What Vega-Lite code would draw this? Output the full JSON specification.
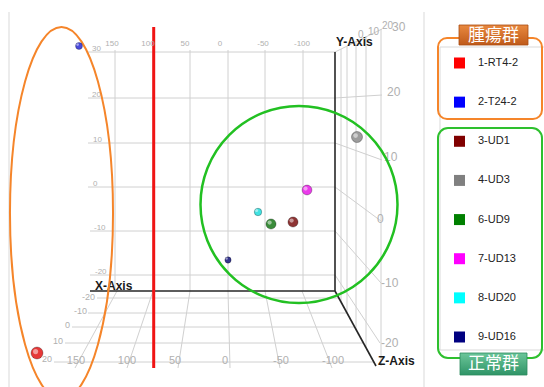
{
  "$schema": "https://vega.github.io/schema/vega-lite/v6.json",
  "width": 544,
  "height": 387,
  "autosize": {"type": "none"},
  "padding": 0,
  "background": "white",
  "config": {"view": {"stroke": null}},
  "datasets": {
    "pts": [
      {"sample": "1-RT4-2", "x": 37, "y": 353, "z": 20},
      {"sample": "2-T24-2", "x": 79, "y": 46, "z": -15},
      {"sample": "3-UD1", "x": 293, "y": 222, "z": 5},
      {"sample": "4-UD3", "x": 357, "y": 137, "z": 12},
      {"sample": "6-UD9", "x": 271, "y": 224, "z": 5},
      {"sample": "7-UD13", "x": 307, "y": 190, "z": 3},
      {"sample": "8-UD20", "x": 258, "y": 212, "z": -12},
      {"sample": "9-UD16", "x": 228, "y": 260, "z": -18}
    ],
    "seg": [
      {"kind": "frame", "x": 9, "y": 12, "x2": 9, "y2": 387},
      {"kind": "frame", "x": 424, "y": 12, "x2": 424, "y2": 387},
      {"kind": "frame", "x": 440, "y": 47, "x2": 440, "y2": 350},
      {"kind": "frame", "x": 440, "y": 47, "x2": 544, "y2": 47},
      {"kind": "frame", "x": 440, "y": 350, "x2": 544, "y2": 350},
      {"kind": "grid", "x": 115, "y": 50, "x2": 115, "y2": 291},
      {"kind": "grid", "x": 153, "y": 50, "x2": 153, "y2": 291},
      {"kind": "grid", "x": 190, "y": 50, "x2": 190, "y2": 291},
      {"kind": "grid", "x": 228, "y": 50, "x2": 228, "y2": 291},
      {"kind": "grid", "x": 265, "y": 50, "x2": 265, "y2": 291},
      {"kind": "grid", "x": 303, "y": 50, "x2": 303, "y2": 291},
      {"kind": "grid", "x": 88, "y": 52, "x2": 335, "y2": 52},
      {"kind": "grid", "x": 88, "y": 98, "x2": 335, "y2": 98},
      {"kind": "grid", "x": 88, "y": 143, "x2": 335, "y2": 143},
      {"kind": "grid", "x": 88, "y": 187, "x2": 335, "y2": 187},
      {"kind": "grid", "x": 90, "y": 231, "x2": 335, "y2": 231},
      {"kind": "grid", "x": 90, "y": 275, "x2": 335, "y2": 275},
      {"kind": "grid", "x": 117, "y": 291, "x2": 75, "y2": 368},
      {"kind": "grid", "x": 153, "y": 291, "x2": 127, "y2": 368},
      {"kind": "grid", "x": 190, "y": 291, "x2": 178, "y2": 368},
      {"kind": "grid", "x": 228, "y": 291, "x2": 230, "y2": 368},
      {"kind": "grid", "x": 265, "y": 291, "x2": 280, "y2": 368},
      {"kind": "grid", "x": 302, "y": 291, "x2": 332, "y2": 368},
      {"kind": "grid", "x": 97, "y": 298, "x2": 339, "y2": 298},
      {"kind": "grid", "x": 88, "y": 313, "x2": 347, "y2": 313},
      {"kind": "grid", "x": 72, "y": 327, "x2": 355, "y2": 327},
      {"kind": "grid", "x": 65, "y": 343, "x2": 363, "y2": 343},
      {"kind": "grid", "x": 54, "y": 362, "x2": 374, "y2": 362},
      {"kind": "grid", "x": 341, "y": 49, "x2": 341, "y2": 302},
      {"kind": "grid", "x": 347, "y": 46, "x2": 347, "y2": 313},
      {"kind": "grid", "x": 356, "y": 41, "x2": 356, "y2": 329},
      {"kind": "grid", "x": 366, "y": 36, "x2": 366, "y2": 348},
      {"kind": "grid", "x": 381, "y": 29, "x2": 381, "y2": 366},
      {"kind": "grid", "x": 335, "y": 52, "x2": 382, "y2": 29},
      {"kind": "grid", "x": 335, "y": 98, "x2": 382, "y2": 95},
      {"kind": "grid", "x": 335, "y": 143, "x2": 382, "y2": 160},
      {"kind": "grid", "x": 335, "y": 187, "x2": 381, "y2": 221},
      {"kind": "grid", "x": 335, "y": 231, "x2": 381, "y2": 283},
      {"kind": "grid", "x": 335, "y": 275, "x2": 380, "y2": 343},
      {"kind": "axis", "x": 335, "y": 52, "x2": 335, "y2": 291},
      {"kind": "axis", "x": 90, "y": 291, "x2": 335, "y2": 291},
      {"kind": "axis", "x": 335, "y": 291, "x2": 376, "y2": 366},
      {"kind": "red", "x": 153.7, "y": 27, "x2": 153.7, "y2": 368}
    ],
    "lbl": [
      {"kind": "bx", "x": 112, "y": 44, "t": "150"},
      {"kind": "bx", "x": 148, "y": 44, "t": "100"},
      {"kind": "bx", "x": 185, "y": 44, "t": "50"},
      {"kind": "bx", "x": 220, "y": 44, "t": "0"},
      {"kind": "bx", "x": 263, "y": 44, "t": "-50"},
      {"kind": "bx", "x": 302, "y": 44, "t": "-100"},
      {"kind": "by", "x": 92, "y": 49, "t": "30"},
      {"kind": "by", "x": 92, "y": 95, "t": "20"},
      {"kind": "by", "x": 93, "y": 140, "t": "10"},
      {"kind": "by", "x": 93, "y": 184, "t": "0"},
      {"kind": "by", "x": 94, "y": 228, "t": "-10"},
      {"kind": "by", "x": 95, "y": 272, "t": "-20"},
      {"kind": "fz", "x": 95, "y": 297, "t": "-20"},
      {"kind": "fz", "x": 87, "y": 311, "t": "-10"},
      {"kind": "fz", "x": 70, "y": 325, "t": "0"},
      {"kind": "fz", "x": 63, "y": 341, "t": "10"},
      {"kind": "fz", "x": 52, "y": 359, "t": "20"},
      {"kind": "fx", "x": 76, "y": 361, "t": "150"},
      {"kind": "fx", "x": 127, "y": 361, "t": "100"},
      {"kind": "fx", "x": 175, "y": 361, "t": "50"},
      {"kind": "fx", "x": 225, "y": 361, "t": "0"},
      {"kind": "fx", "x": 281, "y": 361, "t": "-50"},
      {"kind": "fx", "x": 333, "y": 361, "t": "-100"},
      {"kind": "ry", "x": 392, "y": 27, "t": "30"},
      {"kind": "ry", "x": 387, "y": 92, "t": "20"},
      {"kind": "ry", "x": 384, "y": 157, "t": "10"},
      {"kind": "ry", "x": 377, "y": 219, "t": "0"},
      {"kind": "ry", "x": 381, "y": 283, "t": "-10"},
      {"kind": "ry", "x": 381, "y": 343, "t": "-20"},
      {"kind": "tz", "x": 358, "y": 35, "t": "0"},
      {"kind": "tz", "x": 368, "y": 32, "t": "10"},
      {"kind": "tz", "x": 382, "y": 26, "t": "20"},
      {"kind": "title", "x": 336, "y": 42, "t": "Y-Axis"},
      {"kind": "title", "x": 95, "y": 286, "t": "X-Axis"},
      {"kind": "title", "x": 378, "y": 361, "t": "Z-Axis"},
      {"kind": "hdr", "x": 493.5, "y": 35.5, "t": "腫瘍群"},
      {"kind": "hdr", "x": 493.5, "y": 364, "t": "正常群"}
    ],
    "box": [
      {"kind": "obox", "x": 438, "y": 38, "x2": 542, "y2": 119},
      {"kind": "gbox", "x": 438, "y": 128, "x2": 542, "y2": 358},
      {"kind": "olab", "x": 459, "y": 25, "x2": 528, "y2": 45},
      {"kind": "glab", "x": 460, "y": 353, "x2": 527, "y2": 375}
    ],
    "groups": [
      {"group": "tumor", "x": 61.5, "y": 213},
      {"group": "normal", "x": 299, "y": 204.5}
    ]
  },
  "layer": [
    {
      "resolve": {"scale": {"size": "independent"}},
      "layer": [
        {
          "data": {"name": "seg"},
          "transform": [{"filter": "datum.kind === 'frame'"}],
          "mark": {"type": "rule", "color": "#d9d9d9", "strokeWidth": 1},
          "encoding": {
            "x": {"field": "x", "type": "quantitative", "scale": {"domain": [0, 544], "nice": false, "zero": false}, "axis": null},
            "y": {"field": "y", "type": "quantitative", "scale": {"domain": [0, 387], "nice": false, "zero": false, "reverse": true}, "axis": null},
            "x2": {"field": "x2"},
            "y2": {"field": "y2"}
          }
        },
        {
          "data": {"name": "seg"},
          "transform": [{"filter": "datum.kind === 'grid'"}],
          "mark": {"type": "rule", "color": "#d0d0d0", "strokeWidth": 1},
          "encoding": {
            "x": {"field": "x", "type": "quantitative"},
            "y": {"field": "y", "type": "quantitative"},
            "x2": {"field": "x2"},
            "y2": {"field": "y2"}
          }
        },
        {
          "data": {"name": "seg"},
          "transform": [{"filter": "datum.kind === 'axis'"}],
          "mark": {"type": "rule", "color": "#262626", "strokeWidth": 1.6},
          "encoding": {
            "x": {"field": "x", "type": "quantitative"},
            "y": {"field": "y", "type": "quantitative"},
            "x2": {"field": "x2"},
            "y2": {"field": "y2"}
          }
        },
        {
          "data": {"name": "seg"},
          "transform": [{"filter": "datum.kind === 'red'"}],
          "mark": {"type": "rule", "color": "#f01414", "strokeWidth": 3},
          "encoding": {
            "x": {"field": "x", "type": "quantitative"},
            "y": {"field": "y", "type": "quantitative"},
            "x2": {"field": "x2"},
            "y2": {"field": "y2"}
          }
        },
        {
          "data": {"name": "lbl"},
          "transform": [{"filter": "datum.kind === 'bx'"}],
          "mark": {"type": "text", "align": "center", "baseline": "middle", "font": "Liberation Sans", "fontSize": 8, "color": "#b0b0b0"},
          "encoding": {
            "x": {"field": "x", "type": "quantitative"},
            "y": {"field": "y", "type": "quantitative"},
            "text": {"field": "t"}
          }
        },
        {
          "data": {"name": "lbl"},
          "transform": [{"filter": "datum.kind === 'by'"}],
          "mark": {"type": "text", "align": "left", "baseline": "middle", "font": "Liberation Sans", "fontSize": 8, "color": "#b0b0b0"},
          "encoding": {
            "x": {"field": "x", "type": "quantitative"},
            "y": {"field": "y", "type": "quantitative"},
            "text": {"field": "t"}
          }
        },
        {
          "data": {"name": "lbl"},
          "transform": [{"filter": "datum.kind === 'fz'"}],
          "mark": {"type": "text", "align": "right", "baseline": "middle", "font": "Liberation Sans", "fontSize": 9, "color": "#b0b0b0"},
          "encoding": {
            "x": {"field": "x", "type": "quantitative"},
            "y": {"field": "y", "type": "quantitative"},
            "text": {"field": "t"}
          }
        },
        {
          "data": {"name": "lbl"},
          "transform": [{"filter": "datum.kind === 'fx'"}],
          "mark": {"type": "text", "align": "center", "baseline": "middle", "font": "Liberation Sans", "fontSize": 11, "color": "#b0b0b0"},
          "encoding": {
            "x": {"field": "x", "type": "quantitative"},
            "y": {"field": "y", "type": "quantitative"},
            "text": {"field": "t"}
          }
        },
        {
          "data": {"name": "lbl"},
          "transform": [{"filter": "datum.kind === 'ry'"}],
          "mark": {"type": "text", "align": "left", "baseline": "middle", "font": "Liberation Sans", "fontSize": 12, "color": "#b0b0b0"},
          "encoding": {
            "x": {"field": "x", "type": "quantitative"},
            "y": {"field": "y", "type": "quantitative"},
            "text": {"field": "t"}
          }
        },
        {
          "data": {"name": "lbl"},
          "transform": [{"filter": "datum.kind === 'tz'"}],
          "mark": {"type": "text", "align": "left", "baseline": "middle", "font": "Liberation Sans", "fontSize": 10, "color": "#b0b0b0"},
          "encoding": {
            "x": {"field": "x", "type": "quantitative"},
            "y": {"field": "y", "type": "quantitative"},
            "text": {"field": "t"}
          }
        },
        {
          "data": {"name": "lbl"},
          "transform": [{"filter": "datum.kind === 'title'"}],
          "mark": {"type": "text", "align": "left", "baseline": "middle", "font": "Liberation Sans", "fontSize": 12, "fontWeight": "bold", "color": "#1a1a1a"},
          "encoding": {
            "x": {"field": "x", "type": "quantitative"},
            "y": {"field": "y", "type": "quantitative"},
            "text": {"field": "t"}
          }
        },
        {
          "data": {"name": "box"},
          "transform": [{"filter": "datum.kind === 'obox'"}],
          "mark": {"type": "rect", "fill": "transparent", "stroke": "#f5852a", "strokeWidth": 2, "cornerRadius": 9},
          "encoding": {
            "x": {"field": "x", "type": "quantitative"},
            "y": {"field": "y", "type": "quantitative"},
            "x2": {"field": "x2"},
            "y2": {"field": "y2"}
          }
        },
        {
          "data": {"name": "box"},
          "transform": [{"filter": "datum.kind === 'gbox'"}],
          "mark": {"type": "rect", "fill": "transparent", "stroke": "#2ec02e", "strokeWidth": 2, "cornerRadius": 10},
          "encoding": {
            "x": {"field": "x", "type": "quantitative"},
            "y": {"field": "y", "type": "quantitative"},
            "x2": {"field": "x2"},
            "y2": {"field": "y2"}
          }
        },
        {
          "data": {"name": "box"},
          "transform": [{"filter": "datum.kind === 'olab'"}],
          "mark": {"type": "rect", "stroke": "#a84c12", "strokeWidth": 0.8, "fill": {"gradient": "linear", "x1": 0, "y1": 0, "x2": 0, "y2": 1, "stops": [{"offset": 0, "color": "#e9893f"}, {"offset": 1, "color": "#bf5a1a"}]}},
          "encoding": {
            "x": {"field": "x", "type": "quantitative"},
            "y": {"field": "y", "type": "quantitative"},
            "x2": {"field": "x2"},
            "y2": {"field": "y2"}
          }
        },
        {
          "data": {"name": "box"},
          "transform": [{"filter": "datum.kind === 'glab'"}],
          "mark": {"type": "rect", "stroke": "#2b8a5e", "strokeWidth": 0.8, "fill": {"gradient": "linear", "x1": 0, "y1": 0, "x2": 0, "y2": 1, "stops": [{"offset": 0, "color": "#6cc69a"}, {"offset": 1, "color": "#2f9467"}]}},
          "encoding": {
            "x": {"field": "x", "type": "quantitative"},
            "y": {"field": "y", "type": "quantitative"},
            "x2": {"field": "x2"},
            "y2": {"field": "y2"}
          }
        },
        {
          "data": {"name": "lbl"},
          "transform": [{"filter": "datum.kind === 'hdr'"}],
          "mark": {"type": "text", "align": "center", "baseline": "middle", "font": "Noto Sans CJK JP", "fontSize": 17, "color": "#ffffff"},
          "encoding": {
            "x": {"field": "x", "type": "quantitative"},
            "y": {"field": "y", "type": "quantitative"},
            "text": {"field": "t"}
          }
        },
        {
          "data": {"name": "groups"},
          "transform": [{"filter": "datum.group === 'tumor'"}],
          "mark": {"type": "point", "filled": false, "clip": true, "opacity": 1, "shape": "M-0.277,0A0.277,1,0,1,0,0.277,0A0.277,1,0,1,0,-0.277,0Z", "size": 138384, "stroke": "#f5852a", "strokeWidth": 2},
          "encoding": {
            "x": {"field": "x", "type": "quantitative"},
            "y": {"field": "y", "type": "quantitative"}
          }
        },
        {
          "data": {"name": "groups"},
          "transform": [{"filter": "datum.group === 'normal'"}],
          "mark": {"type": "point", "filled": false, "opacity": 1, "shape": "circle", "size": 38809, "stroke": "#22c022", "strokeWidth": 2.5},
          "encoding": {
            "x": {"field": "x", "type": "quantitative"},
            "y": {"field": "y", "type": "quantitative"}
          }
        },
        {
          "data": {"name": "pts"},
          "mark": {"type": "point", "filled": true, "shape": "circle", "opacity": 1, "stroke": "#000000", "strokeOpacity": 0.35, "strokeWidth": 0.8},
          "encoding": {
            "x": {"field": "x", "type": "quantitative"},
            "y": {"field": "y", "type": "quantitative"},
            "fill": {
              "field": "sample", "type": "nominal", "legend": null,
              "scale": {
                "domain": ["1-RT4-2", "2-T24-2", "3-UD1", "4-UD3", "6-UD9", "7-UD13", "8-UD20", "9-UD16"],
                "range": ["#e63838", "#4a4adc", "#8e3434", "#9c9c9c", "#3a8c3a", "#ea3aea", "#40e2e2", "#34348e"]
              }
            },
            "size": {"field": "z", "type": "quantitative", "legend": null, "scale": {"domain": [-20, 20], "range": [34, 144]}}
          }
        },
        {
          "data": {"name": "pts"},
          "mark": {"type": "point", "filled": true, "shape": "circle", "opacity": 0.5, "color": "#ffffff", "xOffset": -1.4, "yOffset": -1.4},
          "encoding": {
            "x": {"field": "x", "type": "quantitative"},
            "y": {"field": "y", "type": "quantitative"},
            "size": {"field": "z", "type": "quantitative", "legend": null, "scale": {"domain": [-20, 20], "range": [5, 26]}}
          }
        }
      ]
    },
    {
      "data": {"name": "pts"},
      "layer": [
        {
          "mark": {"type": "point", "shape": "square", "filled": true, "opacity": 1, "size": 121},
          "encoding": {
            "x": {"datum": 459.5, "type": "quantitative", "scale": {"domain": [0, 544], "nice": false, "zero": false}, "axis": null},
            "y": {"field": "sample", "type": "nominal", "axis": null, "scale": {"type": "point", "domain": ["1-RT4-2", "2-T24-2", "3-UD1", "4-UD3", "6-UD9", "7-UD13", "8-UD20", "9-UD16"], "range": [63, 337], "padding": 0}},
            "color": {
              "field": "sample", "type": "nominal", "legend": null,
              "scale": {
                "domain": ["1-RT4-2", "2-T24-2", "3-UD1", "4-UD3", "6-UD9", "7-UD13", "8-UD20", "9-UD16"],
                "range": ["#ff0000", "#0000ff", "#800000", "#808080", "#008000", "#ff00ff", "#00ffff", "#000080"]
              }
            }
          }
        },
        {
          "mark": {"type": "text", "align": "left", "baseline": "middle", "font": "Liberation Sans", "fontSize": 11, "color": "#222222"},
          "encoding": {
            "x": {"datum": 478, "type": "quantitative"},
            "y": {"field": "sample", "type": "nominal"},
            "text": {"field": "sample"}
          }
        }
      ]
    }
  ],
  "resolve": {"scale": {"y": "independent"}}
}
